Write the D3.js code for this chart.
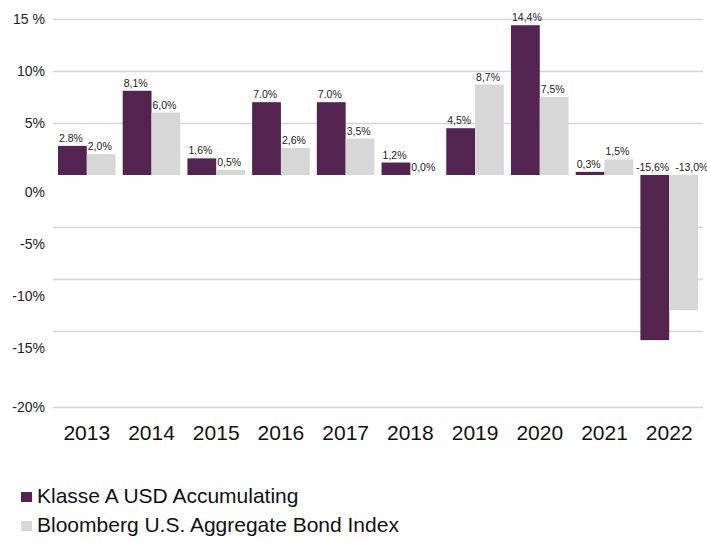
<!DOCTYPE html>
<head>
  <meta charset="utf-8">
  <title>Klasse A USD Accumulating vs Bloomberg U.S. Aggregate</title>
</head>
<style>
  body { margin: 0; background: #fff; }
  svg { display: block; font-family: "Liberation Sans", Arial, sans-serif; }
  .grid line { stroke: #d4d4d4; stroke-width: 1.5px; }
  .grid text { font-size: 14px; fill: #222; }
  .val { font-size: 10.5px; fill: #222; }
  .year { font-size: 21px; fill: #111; text-anchor: middle; }
  .legend text { font-size: 21px; fill: #111; }
</style>
<svg width="707" height="542"></svg>
<script src="https://d3js.org/d3.v7.min.js"></script>
<script>
  var years = ["2013", "2014", "2015", "2016", "2017", "2018", "2019", "2020", "2021", "2022"];
  var fund = [2.8, 8.1, 1.6, 7.0, 7.0, 1.2, 4.5, 14.4, 0.3, -15.6];
  var bench = [2.0, 6.0, 0.5, 2.6, 3.5, 0.0, 8.7, 7.5, 1.5, -13.0];
  var fundLabels = ["2.8%", "8,1%", "1,6%", "7.0%", "7.0%", "1,2%", "4,5%", "14,4%", "0,3%", "-15,6%"];
  var benchLabels = ["2,0%", "6,0%", "0,5%", "2,6%", "3,5%", "0,0%", "8,7%", "7,5%", "1,5%", "-13,0%"];
  var yTicks = [15, 10, 5, 0, -5, -10, -15, -20];
  var yTickLabels = ["15 %", "10%", "5%", "0%", "-5%", "-10%", "-15%", "-20%"];
  var seriesNames = ["Klasse A USD Accumulating", "Bloomberg U.S. Aggregate Bond Index"];
  var colors = ["#532450", "#d7d7d7"];

  var svg = d3.select("svg");

  var x = d3.scaleBand().domain(years).range([58, 698]).paddingInner(0.11).paddingOuter(0);
  var xs = d3.scaleBand().domain([0, 1]).range([0, x.bandwidth()]);
  // the axis below -15% is stretched in the original
  var y = d3.scaleLinear().domain([-20, -15, 15]).range([407, 331, 19]);

  // gridlines + y labels
  var grid = svg.append("g")
    .attr("class", "grid")
    .attr("transform", "translate(53,0)")
    .call(d3.axisLeft(y)
      .tickValues(yTicks)
      .tickSize(-650)
      .tickPadding(8)
      .tickFormat(function (d) { return yTickLabels[yTicks.indexOf(d)]; }));
  grid.select(".domain").remove();
  grid.selectAll(".tick").filter(function (d) { return d === 0; }).select("line").remove();
  grid.selectAll(".tick text")
    .attr("dy", function (d) { return d <= 0 && d > -20 ? "1.5em" : "0.32em"; });

  var rows = years.map(function (yr, i) {
    return { year: yr, vals: [fund[i], bench[i]], labels: [fundLabels[i], benchLabels[i]] };
  });

  var group = svg.selectAll(".yr")
    .data(rows)
    .enter().append("g")
    .attr("class", "yr")
    .attr("transform", function (d) { return "translate(" + x(d.year) + ",0)"; });

  group.selectAll("rect")
    .data(function (d) { return d.vals; })
    .enter().append("rect")
    .attr("x", function (d, j) { return xs(j); })
    .attr("y", function (d) { return y(Math.max(0, d)); })
    .attr("width", xs.bandwidth())
    .attr("height", function (d) { return Math.abs(y(d) - y(0)); })
    .attr("fill", function (d, j) { return colors[j]; });

  group.selectAll(".val")
    .data(function (d) { return d.vals.map(function (v, j) { return { v: v, j: j, t: d.labels[j] }; }); })
    .enter().append("text")
    .attr("class", "val")
    .attr("x", function (d) {
      if (d.v >= 0) return xs(d.j) + 1;
      return d.j === 0 ? xs(d.j) + xs.bandwidth() : xs(d.j) + 6;
    })
    .attr("y", function (d) { return d.v >= 0 ? y(d.v) - 4 : y(0) - 4; })
    .attr("text-anchor", function (d) { return d.v < 0 && d.j === 0 ? "end" : "start"; })
    .text(function (d) { return d.t; });

  svg.selectAll(".year")
    .data(years)
    .enter().append("text")
    .attr("class", "year")
    .attr("x", function (d) { return x(d) + x.bandwidth() / 2; })
    .attr("y", 440)
    .text(function (d) { return d; });

  // legend
  var legend = svg.append("g").attr("class", "legend")
    .selectAll("g")
    .data(seriesNames)
    .enter().append("g")
    .attr("transform", function (d, i) { return "translate(21," + (503 + i * 29) + ")"; });

  legend.append("rect")
    .attr("x", 0).attr("y", -11)
    .attr("width", 11).attr("height", 10)
    .attr("fill", function (d, i) { return colors[i]; });

  legend.append("text")
    .attr("x", 16)
    .attr("y", 0)
    .text(function (d) { return d; });
</script>
